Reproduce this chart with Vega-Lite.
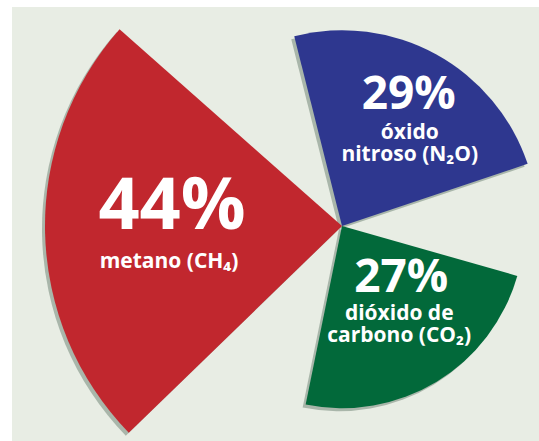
{
  "$schema": "https://vega.github.io/schema/vega-lite/v6.json",
  "width": 527,
  "height": 434,
  "autosize": "none",
  "padding": {"left": 12, "top": 7, "right": 0, "bottom": 0},
  "background": "#ffffff",
  "config": {"view": {"fill": "#e8ede4", "stroke": null}, "text": {"font": "Open Sans, Noto Sans"}},
  "data": {"values": [
    {"gas": "dióxido de carbono", "pct": 27, "label": "27%", "name": "dióxido de\ncarbono (CO₂)"},
    {"gas": "metano", "pct": 44, "label": "44%", "name": "metano (CH₄)"},
    {"gas": "óxido nitroso", "pct": 29, "label": "29%", "name": "óxido\nnitroso (N₂O)"}
  ]},
  "transform": [
    {"aggregate": [{"op": "count", "as": "n"}], "groupby": ["gas", "pct", "label", "name"]},
    {"stack": "n", "groupby": [], "sort": [{"field": "gas", "order": "ascending"}], "as": ["t0", "t1"]}
  ],
  "layer": [
    {
      "mark": {"type": "arc", "padAngle": 0.6, "color": "#a9b6aa"},
      "encoding": {
        "x": {"value": 327},
        "y": {"value": 222},
        "theta": {"field": "t0", "type": "quantitative", "scale": {"domain": [0, 3], "range": [1.548, 7.831]}},
        "theta2": {"field": "t1"},
        "radius": {"field": "pct", "type": "quantitative", "scale": {"type": "linear", "zero": true, "domain": [0, 44], "range": [0, 297]}}
      }
    },
    {
      "mark": {"type": "arc", "padAngle": 0.6},
      "encoding": {
        "x": {"value": 330},
        "y": {"value": 219},
        "theta": {"field": "t0", "type": "quantitative", "scale": {"domain": [0, 3], "range": [1.548, 7.831]}},
        "theta2": {"field": "t1"},
        "radius": {"field": "pct", "type": "quantitative", "scale": {"type": "linear", "zero": true, "domain": [0, 44], "range": [0, 297]}},
        "color": {"field": "gas", "type": "nominal", "scale": {"domain": ["dióxido de carbono", "metano", "óxido nitroso"], "range": ["#02693a", "#c1272e", "#2e378f"]}, "legend": null}
      }
    },
    {
      "mark": {"type": "text", "color": "#ffffff", "fontWeight": "bold", "align": "center", "baseline": "middle",
        "dx": {"expr": "datum.gas == 'metano' ? 0 : datum.gas == 'óxido nitroso' ? 13 : 5"},
        "dy": {"expr": "datum.gas == 'metano' ? -23 : datum.gas == 'óxido nitroso' ? -33 : -37"}},
      "encoding": {
        "x": {"value": 330},
        "y": {"value": 219},
        "theta": {"field": "t0", "type": "quantitative", "scale": {"domain": [0, 3], "range": [2.595, 8.878]}},
        "radius": {"field": "pct", "type": "quantitative", "scale": {"type": "linear", "zero": true, "domain": [0, 44], "range": [0, 170]}},
        "text": {"field": "label", "type": "nominal"},
        "size": {"condition": {"test": "datum.gas == 'metano'", "value": 72}, "value": 46}
      }
    },
    {
      "mark": {"type": "text", "color": "#ffffff", "fontWeight": "bold", "align": "center", "baseline": "top", "lineBreak": "\n", "lineHeight": 22, "fontSize": 21,
        "dx": {"expr": "datum.gas == 'metano' ? -3 : datum.gas == 'óxido nitroso' ? 14 : 3"},
        "dy": {"expr": "datum.gas == 'metano' ? 21 : datum.gas == 'óxido nitroso' ? -6 : -12"}},
      "encoding": {
        "x": {"value": 330},
        "y": {"value": 219},
        "theta": {"field": "t0", "type": "quantitative", "scale": {"domain": [0, 3], "range": [2.595, 8.878]}},
        "radius": {"field": "pct", "type": "quantitative", "scale": {"type": "linear", "zero": true, "domain": [0, 44], "range": [0, 170]}},
        "text": {"field": "name", "type": "nominal"}
      }
    }
  ],
  "resolve": {"scale": {"radius": "independent", "theta": "independent"}}
}
